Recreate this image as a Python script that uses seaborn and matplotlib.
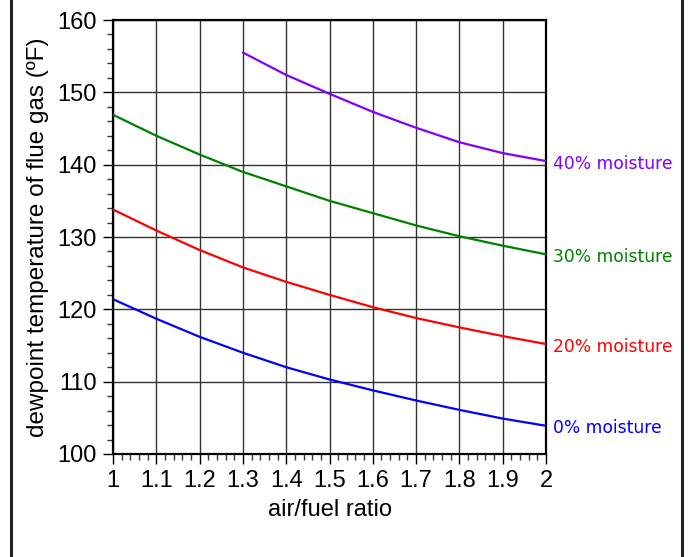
import matplotlib
matplotlib.use("Agg")
import matplotlib.pyplot as plt
from matplotlib.ticker import MultipleLocator, FuncFormatter
import matplotlib.transforms as mtransforms
import pandas as pd
import seaborn as sns

ratio = [1.0, 1.1, 1.2, 1.3, 1.4, 1.5, 1.6, 1.7, 1.8, 1.9, 2.0]
dew_0 = [121.4, 118.7, 116.2, 114.0, 112.0, 110.3, 108.8, 107.4, 106.1, 104.9, 103.9]
dew_20 = [133.8, 130.9, 128.2, 125.8, 123.8, 122.0, 120.3, 118.8, 117.5, 116.3, 115.2]
dew_30 = [146.9, 144.0, 141.4, 139.0, 137.0, 135.0, 133.3, 131.6, 130.1, 128.8, 127.6]
ratio_40 = [1.3, 1.4, 1.5, 1.6, 1.7, 1.8, 1.9, 2.0]
dew_40 = [155.5, 152.4, 149.8, 147.3, 145.1, 143.1, 141.6, 140.5]

series = ["0% moisture", "20% moisture", "30% moisture", "40% moisture"]
colors = ["#0000ff", "#ff0000", "#008000", "#8000ff"]

df = pd.concat([
    pd.DataFrame({"ratio": ratio, "dew": dew_0, "s": series[0]}),
    pd.DataFrame({"ratio": ratio, "dew": dew_20, "s": series[1]}),
    pd.DataFrame({"ratio": ratio, "dew": dew_30, "s": series[2]}),
    pd.DataFrame({"ratio": ratio_40, "dew": dew_40, "s": series[3]}),
])

sns.set_theme(style="ticks", rc={"text.color": "black", "axes.labelcolor": "black",
                                 "xtick.color": "black", "ytick.color": "black"})
plt.rcParams["font.family"] = ["Liberation Sans", "DejaVu Sans"]

fig = plt.figure(figsize=(6.92, 5.57), dpi=100)
ax = fig.add_axes([113/692, 1-454/557, 433/692, 434/557])

sns.lineplot(data=df, x="ratio", y="dew", hue="s", palette=dict(zip(series, colors)),
             legend=False, linewidth=1.6, ax=ax, zorder=3)

ax.set_xlim(1, 2); ax.set_ylim(100, 160)
ax.xaxis.set_major_locator(MultipleLocator(0.1))
ax.xaxis.set_minor_locator(MultipleLocator(0.02))
ax.yaxis.set_major_locator(MultipleLocator(10))
ax.yaxis.set_minor_locator(MultipleLocator(2))
ax.xaxis.set_major_formatter(FuncFormatter(lambda v, p: f"{round(v, 1):g}"))
ax.grid(True, which="major", color="#333333", linewidth=1.0)
ax.tick_params(which="major", direction="out", length=7.5, width=1, labelsize=17,
               color="black", labelcolor="black", pad=4)
ax.tick_params(which="minor", direction="out", length=4, width=1, color="#333333")
for sp in ax.spines.values():
    sp.set_linewidth(1.6); sp.set_color("black")

ax.set_xlabel("air/fuel ratio", fontsize=17, labelpad=5, color="black")
ax.set_ylabel("dewpoint temperature of flue gas (ºF)", fontsize=17.5, labelpad=6, color="black")

# end labels sit a couple of pixels below the curve ends
shift = mtransforms.offset_copy(ax.transData, fig=fig, x=0, y=-2.5, units="dots")
ends = [dew_0[-1], dew_20[-1], dew_30[-1], dew_40[-1]]
for name, c, yv in zip(series, colors, ends):
    ax.text(2.016, yv, name, color=c, fontsize=12.3, va="center", ha="left",
            family=["DejaVu Sans"], clip_on=False, transform=shift)

for xf in (11.5/692, 681.5/692):
    fig.add_artist(plt.Line2D([xf, xf], [0, 1], color="#222222", linewidth=2.2,
                              transform=fig.transFigure))

fig.savefig("out.png", dpi=100)
